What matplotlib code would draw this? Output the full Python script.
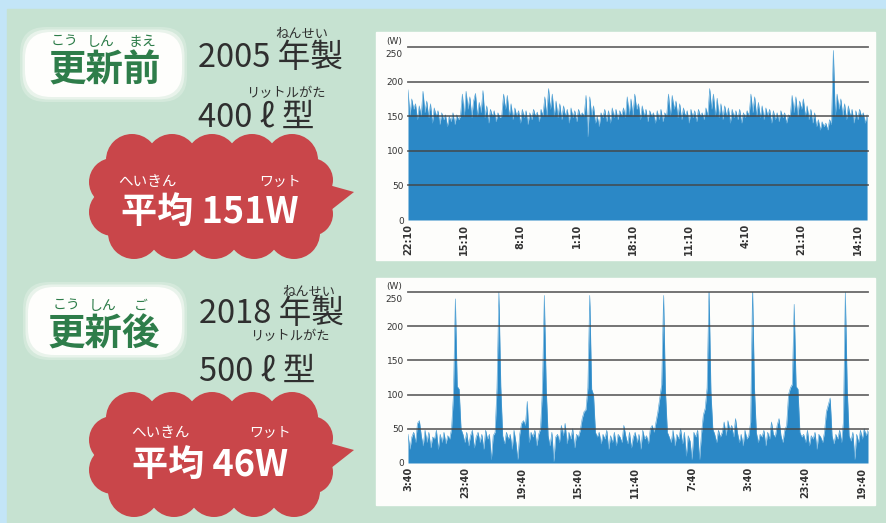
import matplotlib
matplotlib.use('Agg')
import matplotlib.pyplot as plt
from matplotlib.patches import Rectangle, Circle, Polygon, FancyBboxPatch
import numpy as np

JP = ['Noto Sans CJK JP', 'DejaVu Sans']
NUM = ['Liberation Sans Narrow', 'DejaVu Sans']

# ---- data (W) ----
before_watts = [
    188, 150, 175, 160, 168, 145, 165, 150, 186, 155,
    172, 148, 168, 140, 162, 150, 158, 138, 155, 145,
    152, 135, 150, 142, 155, 138, 152, 145, 150, 182,
    150, 186, 160, 178, 148, 172, 183, 150, 170, 155,
    187, 148, 165, 140, 160, 150, 158, 142, 155, 148,
    150, 182, 160, 180, 150, 168, 145, 162, 150, 158,
    140, 160, 148, 158, 138, 155, 145, 160, 150, 156,
    142, 160, 150, 178, 150, 190, 160, 182, 150, 172,
    148, 168, 145, 165, 150, 160, 140, 162, 148, 158,
    142, 160, 150, 155, 150, 180, 120, 178, 150, 165,
    140, 150, 135, 155, 148, 160, 142, 158, 140, 162,
    148, 160, 145, 158, 150, 162, 148, 178, 152, 175,
    150, 182, 160, 168, 145, 165, 150, 160, 142, 158,
    150, 155, 140, 158, 145, 160, 142, 155, 150, 182,
    150, 180, 160, 172, 148, 168, 145, 162, 150, 158,
    140, 160, 148, 158, 142, 160, 150, 155, 145, 162,
    150, 190, 160, 182, 150, 176, 148, 168, 145, 165,
    150, 162, 140, 160, 148, 158, 145, 160, 140, 155,
    148, 158, 150, 182, 155, 178, 150, 170, 148, 165,
    145, 162, 150, 160, 140, 158, 145, 155, 142, 158,
    148, 155, 140, 152, 150, 180, 155, 178, 150, 172,
    160, 175, 150, 165, 145, 160, 140, 155, 135, 145,
    130, 142, 135, 140, 130, 145, 138, 245, 150, 182,
    160, 175, 150, 168, 145, 165, 150, 160, 140, 158,
    145, 160, 150, 155, 140, 152,
]
after_watts = [
    42, 20, 38, 45, 30, 58, 62, 40, 25, 48,
    30, 45, 22, 38, 35, 48, 20, 42, 30, 45,
    28, 40, 35, 50, 100, 240, 112, 108, 50, 42,
    30, 45, 25, 40, 48, 22, 38, 45, 30, 42,
    20, 48, 35, 42, 5, 40, 45, 110, 250, 112,
    40, 28, 45, 35, 42, 20, 48, 30, 5, 42,
    58, 62, 55, 90, 30, 45, 38, 48, 25, 42,
    50, 108, 245, 110, 40, 25, 45, 2, 38, 42,
    30, 55, 40, 58, 28, 45, 35, 50, 22, 42,
    38, 48, 65, 75, 78, 110, 245, 108, 100, 45,
    38, 45, 28, 42, 35, 48, 20, 40, 30, 45,
    25, 42, 38, 30, 55, 40, 28, 45, 22, 38,
    45, 30, 42, 20, 48, 35, 40, 28, 50, 55,
    45, 60, 75, 95, 115, 245, 105, 45, 38, 30,
    48, 25, 42, 35, 50, 28, 45, 10, 40, 32,
    5, 45, 38, 48, 5, 42, 70, 80, 110, 258,
    105, 50, 42, 30, 48, 38, 45, 60, 40, 62,
    48, 55, 38, 65, 45, 30, 42, 25, 48, 35,
    40, 60, 255, 110, 45, 30, 42, 38, 48, 25,
    45, 35, 60, 42, 38, 55, 65, 40, 30, 48,
    55, 100, 110, 115, 232, 112, 108, 45, 38, 42,
    30, 48, 25, 40, 35, 45, 20, 42, 38, 30,
    45, 75, 85, 95, 40, 28, 42, 35, 48, 30,
    60, 250, 110, 40, 32, 45, 5, 42, 30, 48,
    35, 50, 40, 48,
]
before_ticks = ['22:10', '15:10', '8:10', '1:10', '18:10', '11:10', '4:10', '21:10', '14:10']
after_ticks = ['3:40', '23:40', '19:40', '15:40', '11:40', '7:40', '3:40', '23:40', '19:40']
y_ticks = [0, 50, 100, 150, 200]
grid_levels = [50, 100, 150, 200, 250]
samples_per_tick = 30

fig = plt.figure(figsize=(8.86, 5.23), dpi=100)

# ---- background canvas in pixel coordinates ----
bg = fig.add_axes([0, 0, 1, 1], zorder=0)
bg.set_xlim(0, 886)
bg.set_ylim(523, 0)
bg.axis('off')
bg.add_patch(Rectangle((0, 0), 886, 523, color='#c3e5f7'))
bg.add_patch(Rectangle((7, 9), 879, 514, color='#c6e2d1'))
bg.add_patch(Rectangle((376, 32), 499, 228, color='#fdfdfb'))
bg.add_patch(Rectangle((376, 278), 499, 227, color='#fdfdfb'))

GREEN = '#2e7d4a'
DARK = '#2f2f2f'
RED = '#c9464a'


def blob(x0, y0, x1, y1):
    pad = 26
    for grow, a in [(5, 0.25), (2.5, 0.5), (0, 1.0)]:
        bg.add_patch(FancyBboxPatch((x0 + pad - grow, y0 + pad - grow),
                                    x1 - x0 - 2 * pad + 2 * grow,
                                    y1 - y0 - 2 * pad + 2 * grow,
                                    boxstyle=f'round,pad={pad}',
                                    fc='#fefefc', ec='none', alpha=a))


def cloud(dy):
    parts = [Rectangle((113, 160 + dy), 199, 73)]
    for cx in [132, 172, 212, 252, 292]:
        parts.append(Circle((cx, 160 + dy), 26))
    for cx in [134, 174, 214, 254, 294]:
        parts.append(Circle((cx, 233 + dy), 26))
    for cy in [182, 212]:
        parts.append(Circle((113, cy + dy), 24))
    for cy in [180, 214]:
        parts.append(Circle((311, cy + dy), 22))
    parts.append(Polygon([(318, 182 + dy), (354, 192 + dy), (326, 214 + dy)]))
    for p in parts:
        p.set_facecolor(RED)
        p.set_edgecolor('none')
        bg.add_patch(p)


def left_panel(blob_box, furi_groups, label, label_pos,
               nensei_pos, year_text, year_pos,
               litre_pos, size_text, size_pos,
               dy, heikin_pos, watt_pos, avg_text, avg_pos):
    blob(*blob_box)
    for txt, x, y in furi_groups:
        bg.text(x, y, txt, family=JP, fontsize=10, color=GREEN,
                ha='center', va='center')
    bg.text(*label_pos, label, family=JP, fontsize=27, color=GREEN,
            weight='bold', ha='center', va='center')
    bg.text(*nensei_pos, 'ねんせい', family=JP, fontsize=9.5, color=DARK,
            ha='center', va='center')
    bg.text(*year_pos, year_text, family=JP, fontsize=23.5, color=DARK,
            ha='left', va='center')
    bg.text(*litre_pos, 'リットルがた', family=JP, fontsize=9.5, color=DARK,
            ha='center', va='center')
    bg.text(*size_pos, size_text, family=JP, fontsize=23.5, color=DARK,
            ha='left', va='center')
    cloud(dy)
    bg.text(*heikin_pos, 'へいきん', family=JP, fontsize=10.5, color='white',
            ha='center', va='center')
    bg.text(*watt_pos, 'ワット', family=JP, fontsize=10, color='white',
            ha='center', va='center')
    bg.text(*avg_pos, avg_text, family=JP, fontsize=26, color='white',
            weight='bold', ha='center', va='center')


left_panel((25, 32, 182, 97),
           [('こう', 65, 42), ('しん', 101, 42), ('まえ', 142, 42)],
           '更新前', (105, 70),
           (302, 34), '2005 年製', (198, 58), (286, 94), '400 ℓ 型', (198, 118),
           0, (147, 182), (280, 182), '平均 151W', (210, 212))
left_panel((28, 287, 182, 355),
           [('こう', 67, 306), ('しん', 103, 306), ('ご', 141, 306)],
           '更新後', (104, 334),
           (309, 292), '2018 年製', (199, 314), (290, 337), '500 ℓ 型', (199, 372),
           258, (160, 433), (270, 433), '平均 46W', (210, 465))


# ---- charts ----
def draw_chart(rect, values, labels, xmax):
    ax = fig.add_axes(rect, zorder=2)
    ax.set_facecolor('none')
    x = np.arange(len(values))
    ax.fill_between(x, values, 0, color='#2b88c6', lw=0, zorder=1)
    ax.plot(x, values, color='#4a9ed4', lw=0.4, zorder=1)
    ax.set_xlim(0, xmax)
    ax.set_ylim(0, 250)
    for v in grid_levels:
        ax.axhline(v, color='#454545', lw=1.3, alpha=0.8, zorder=3, clip_on=False)
    for s in ax.spines.values():
        s.set_visible(False)
    ax.set_yticks(y_ticks)
    ax.set_yticklabels([str(v) for v in y_ticks], family=NUM, fontsize=6.5, color='#333333')
    ax.text(-0.012, 258, '(W)', transform=ax.get_yaxis_transform(), ha='right',
            va='center', family=NUM, fontsize=6.5, color='#333333')
    ax.text(-0.012, 239, '250', transform=ax.get_yaxis_transform(), ha='right',
            va='center', family=NUM, fontsize=6.5, color='#333333')
    pos = [i * samples_per_tick for i in range(len(labels))]
    ax.set_xticks(pos)
    ax.set_xticklabels(labels, rotation=90, family=NUM, fontsize=7, color='#333333',
                       weight='bold')
    ax.tick_params(length=0, pad=3)
    return ax


draw_chart([408 / 886, 1 - 220 / 523, 460 / 886, 173 / 523], before_watts, before_ticks, 245.5)
draw_chart([408 / 886, 1 - 463 / 523, 460 / 886, 171 / 523], after_watts, after_ticks, 243)

fig.savefig('out.png', dpi=100)
